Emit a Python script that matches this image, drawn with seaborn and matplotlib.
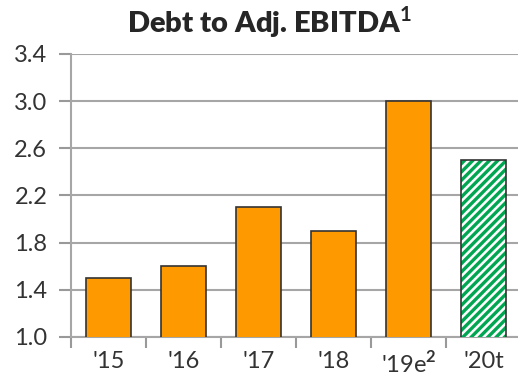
import matplotlib
matplotlib.use("Agg")
import matplotlib.pyplot as plt
from matplotlib.patches import Rectangle
import seaborn as sns
import pandas as pd

categories = ["'15", "'16", "'17", "'18", "'19e", "'20t"]
values = [1.5, 1.6, 2.1, 1.9, 3.0, 2.5]
tick_labels = ["'15", "'16", "'17", "'18", r"'19e$^{\mathbf{2}}$", "'20t"]
yticks = [1.0, 1.4, 1.8, 2.2, 2.6, 3.0, 3.4]
title = r"Debt to Adj. EBITDA$^{\mathbf{1}}$"

sns.set_theme(style="white")
plt.rcParams['font.family'] = ['Lato', 'DejaVu Sans']
plt.rcParams['mathtext.fontset'] = 'custom'
plt.rcParams['mathtext.rm'] = 'Lato'
plt.rcParams['mathtext.bf'] = 'Lato:bold'
plt.rcParams['hatch.linewidth'] = 2.4

df = pd.DataFrame({"cat": categories, "val": values})

fig = plt.figure(figsize=(5.18, 3.85), dpi=100)
ax = fig.add_axes([0.137, 0.125, 0.869, 0.735])

sns.barplot(data=df, x="cat", y="val", ax=ax, color="#FF9900",
            width=0.59, edgecolor="#333333", linewidth=1.2, saturation=1, zorder=3)

last = ax.patches[-1]
last.set_facecolor("white")
last.set_hatch("////")
last.set_edgecolor("#00A651")
last.set_linewidth(0)
outline = Rectangle(last.get_xy(), last.get_width(), last.get_height(),
                    fill=False, edgecolor="#333333", linewidth=1.2, zorder=4)
ax.add_patch(outline)

ax.set_ylim(1.0, 3.4)
ax.set_xlim(-0.5, 5.5)
ax.set_yticks(yticks)
ax.set_yticklabels([f"{v:.1f}" for v in yticks], fontsize=17, color="#333333")
ax.set_xticks(range(len(categories)))
ax.set_xticklabels(tick_labels, fontsize=17, color="#333333")
ax.tick_params(axis='x', length=0, pad=10)
ax.tick_params(axis='y', length=9, width=1.5, color="#999999", direction='out', pad=8)
ax.yaxis.set_ticks_position('left')

ax.set_xticks([i - 0.5 for i in range(len(categories) + 1)], minor=True)
ax.tick_params(axis='x', which='minor', length=8, width=1.5, color="#999999", direction='out')
ax.xaxis.set_ticks_position('bottom')

ax.grid(axis='y', color="#A6A6A6", linewidth=1.5, zorder=0)
ax.set_axisbelow(True)
for s in ['top', 'right']:
    ax.spines[s].set_visible(False)
for s in ['left', 'bottom']:
    ax.spines[s].set_color("#A6A6A6")
    ax.spines[s].set_linewidth(1.5)

ax.set_xlabel("")
ax.set_ylabel("")
fig.text(0.52, 0.943, title, fontsize=21, fontweight='heavy', color="#262626",
         ha='center', va='center')

fig.savefig("out.png", dpi=100)
